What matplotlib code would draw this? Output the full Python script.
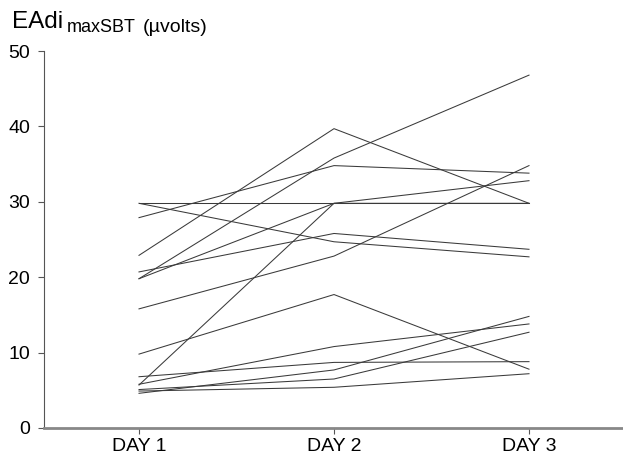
import matplotlib
matplotlib.use('Agg')
import matplotlib.pyplot as plt

plt.rcParams['font.family'] = ['Liberation Sans', 'DejaVu Sans']

days = ['DAY 1', 'DAY 2', 'DAY 3']
# one value per patient, same order in each list
day1 = [29.8, 29.8, 27.9, 22.9, 19.8, 20.7, 19.8, 15.8, 5.7, 9.8, 5.8, 6.8, 4.6, 5.1, 4.9]
day2 = [29.8, 24.7, 34.8, 39.7, 35.8, 25.8, 29.8, 22.8, 29.8, 17.7, 10.8, 8.7, 7.7, 6.5, 5.4]
day3 = [29.8, 22.7, 33.8, 29.8, 46.8, 23.7, 32.8, 34.8, 29.8, 7.8, 13.8, 8.8, 14.8, 12.7, 7.2]
yticks = [0, 10, 20, 30, 40, 50]

fig = plt.figure(figsize=(6.23, 4.59), dpi=100)
ax = fig.add_axes([44/623, 31/459, 579/623, 377/459])

x = [1, 2, 3]
for a, b, c in zip(day1, day2, day3):
    ax.plot(x, [a, b, c], color='#3a3a3a', lw=0.75)

ax.set_xlim(1 - 95/195, 3 + 94/195)
ax.set_ylim(0, 50)
ax.set_xticks(x)
ax.set_xticklabels(days, fontsize=14)
ax.set_yticks(yticks)
ax.set_yticklabels([str(v) for v in yticks], fontsize=14)

for s in ['top', 'right']:
    ax.spines[s].set_visible(False)
ax.spines['left'].set_color('#555555')
ax.spines['left'].set_linewidth(0.8)
ax.spines['bottom'].set_color('#888888')
ax.spines['bottom'].set_linewidth(2)
ax.tick_params(axis='y', length=4, width=0.8, color='#555555', pad=6)
ax.tick_params(axis='x', length=4, width=0.8, color='#555555', pad=3)

# title: EAdi with subscript
t1 = fig.text(12/623, 1 - 28.5/459, 'EAdi', fontsize=17.5, va='baseline', ha='left')
fig.canvas.draw()
bb = t1.get_window_extent()
t2 = fig.text((bb.x1 + 4) / 623, 1 - 32.5/459, 'maxSBT', fontsize=13, va='baseline', ha='left')
fig.canvas.draw()
bb2 = t2.get_window_extent()
fig.text((bb2.x1 + 7) / 623, 1 - 32.5/459, '(µvolts)', fontsize=14, va='baseline', ha='left')

fig.savefig('out.png', dpi=100)
